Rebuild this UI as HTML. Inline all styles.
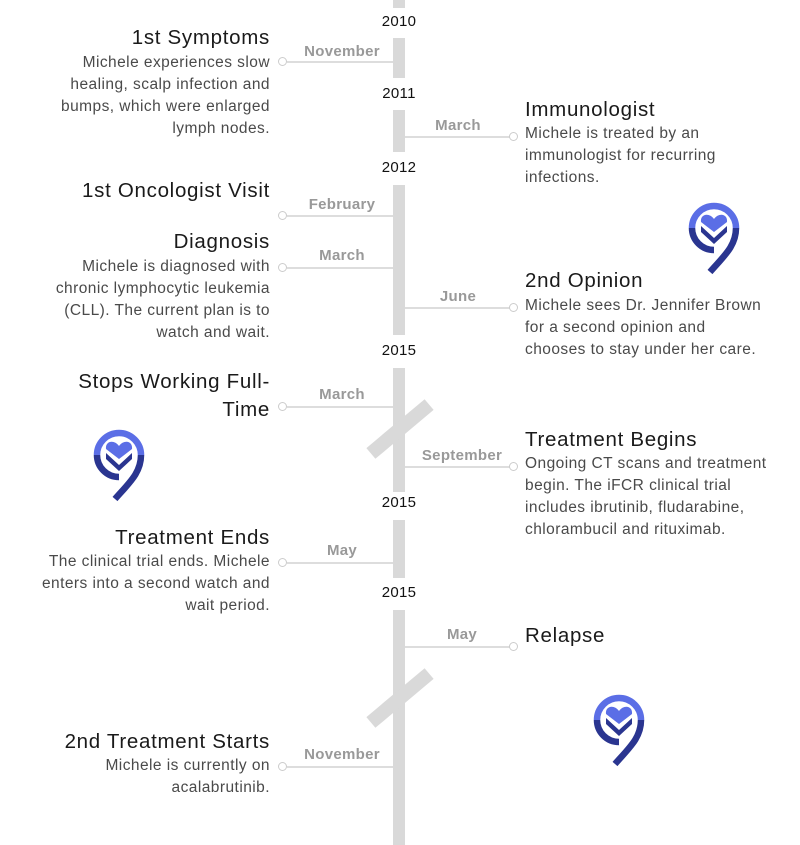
<!DOCTYPE html>
<html><head><meta charset="utf-8"><style>
body{margin:0;width:800px;height:845px;background:#fff;position:relative;overflow:hidden;font-family:"Liberation Sans",sans-serif}
.a{position:absolute;white-space:nowrap}
.bar{position:absolute;left:393px;width:12px;background:#d9d9d9}
.yr{position:absolute;left:349px;width:100px;text-align:center;font-size:15px;color:#111;height:20px;line-height:20px;letter-spacing:.3px}
.mo{position:absolute;font-size:15px;font-weight:bold;color:#999;height:20px;line-height:20px;text-align:center;width:110px;letter-spacing:.3px}
.ln{position:absolute;height:2px;background:#ddd}
.c{position:absolute;width:7px;height:7px;border:1.5px solid #ccc;border-radius:50%;background:#fff}
.L{right:530px;text-align:right}
.R{left:525px;text-align:left}
.t{font-size:20.5px;color:#1a1a1a;height:26px;line-height:26px;letter-spacing:.7px}
.b{font-size:15.5px;color:#4a4a4a;height:22px;line-height:22px;letter-spacing:.45px}
.sl{position:absolute;width:76px;height:14px;background:#d9d9d9;transform:rotate(-40deg)}
</style></head><body>
<div class="bar" style="top:0;height:8px"></div>
<div class="bar" style="top:38px;height:40px"></div>
<div class="bar" style="top:110px;height:42px"></div>
<div class="bar" style="top:185px;height:150px"></div>
<div class="bar" style="top:368px;height:124px"></div>
<div class="bar" style="top:520px;height:58px"></div>
<div class="bar" style="top:610px;height:235px"></div>
<div class="sl" style="left:362px;top:422px"></div>
<div class="sl" style="left:362px;top:691px"></div>

<div class="yr" style="top:12px">2010</div>
<div class="yr" style="top:84px">2011</div>
<div class="yr" style="top:158px">2012</div>
<div class="yr" style="top:341px">2015</div>
<div class="yr" style="top:493px">2015</div>
<div class="yr" style="top:583px">2015</div>

<div class="ln" style="left:287px;width:106px;top:61px"></div><div class="c" style="left:278px;top:57px"></div>
<div class="mo" style="left:287px;top:42px">November</div>
<div class="ln" style="left:287px;width:106px;top:215px"></div><div class="c" style="left:278px;top:211px"></div>
<div class="mo" style="left:287px;top:195px">February</div>
<div class="ln" style="left:287px;width:106px;top:267px"></div><div class="c" style="left:278px;top:263px"></div>
<div class="mo" style="left:287px;top:246px">March</div>
<div class="ln" style="left:287px;width:106px;top:406px"></div><div class="c" style="left:278px;top:402px"></div>
<div class="mo" style="left:287px;top:385px">March</div>
<div class="ln" style="left:287px;width:106px;top:562px"></div><div class="c" style="left:278px;top:558px"></div>
<div class="mo" style="left:287px;top:541px">May</div>
<div class="ln" style="left:287px;width:106px;top:766px"></div><div class="c" style="left:278px;top:762px"></div>
<div class="mo" style="left:287px;top:745px">November</div>

<div class="ln" style="left:405px;width:106px;top:136px"></div><div class="c" style="left:509px;top:132px"></div>
<div class="mo" style="left:403px;top:116px">March</div>
<div class="ln" style="left:405px;width:106px;top:307px"></div><div class="c" style="left:509px;top:303px"></div>
<div class="mo" style="left:403px;top:287px">June</div>
<div class="ln" style="left:405px;width:106px;top:466px"></div><div class="c" style="left:509px;top:462px"></div>
<div class="mo" style="left:407px;top:446px">September</div>
<div class="ln" style="left:405px;width:106px;top:646px"></div><div class="c" style="left:509px;top:642px"></div>
<div class="mo" style="left:407px;top:625px">May</div>

<div class="a L t" style="top:25px">1st Symptoms</div>
<div class="a L b" style="top:52px">Michele experiences slow</div>
<div class="a L b" style="top:74px">healing, scalp infection and</div>
<div class="a L b" style="top:96px">bumps, which were enlarged</div>
<div class="a L b" style="top:118px">lymph nodes.</div>

<div class="a L t" style="top:178px">1st Oncologist Visit</div>
<div class="a L t" style="top:229px">Diagnosis</div>
<div class="a L b" style="top:256px">Michele is diagnosed with</div>
<div class="a L b" style="top:278px">chronic lymphocytic leukemia</div>
<div class="a L b" style="top:300px">(CLL). The current plan is to</div>
<div class="a L b" style="top:322px">watch and wait.</div>

<div class="a L t" style="top:369px">Stops Working Full-</div>
<div class="a L t" style="top:397px">Time</div>

<div class="a L t" style="top:525px">Treatment Ends</div>
<div class="a L b" style="top:551px">The clinical trial ends. Michele</div>
<div class="a L b" style="top:573px">enters into a second watch and</div>
<div class="a L b" style="top:595px">wait period.</div>

<div class="a L t" style="top:729px">2nd Treatment Starts</div>
<div class="a L b" style="top:755px">Michele is currently on</div>
<div class="a L b" style="top:777px">acalabrutinib.</div>

<div class="a R t" style="top:97px">Immunologist</div>
<div class="a R b" style="top:123px">Michele is treated by an</div>
<div class="a R b" style="top:145px">immunologist for recurring</div>
<div class="a R b" style="top:167px">infections.</div>

<div class="a R t" style="top:268px">2nd Opinion</div>
<div class="a R b" style="top:295px">Michele sees Dr. Jennifer Brown</div>
<div class="a R b" style="top:317px">for a second opinion and</div>
<div class="a R b" style="top:339px">chooses to stay under her care.</div>

<div class="a R t" style="top:427px">Treatment Begins</div>
<div class="a R b" style="top:453px">Ongoing CT scans and treatment</div>
<div class="a R b" style="top:475px">begin. The iFCR clinical trial</div>
<div class="a R b" style="top:497px">includes ibrutinib, fludarabine,</div>
<div class="a R b" style="top:519px">chlorambucil and rituximab.</div>

<div class="a R t" style="top:623px">Relapse</div>

<svg width="0" height="0" style="position:absolute"><defs>
<g id="lg">
<path d="M8 30 A22 22 0 0 1 52 30" fill="none" stroke="#5b6ee6" stroke-width="6.5"/>
<path d="M8 30 A22 22 0 0 0 30 52" fill="none" stroke="#2a3590" stroke-width="6.5"/>
<path d="M52 30 C52 48 40 58 26 74" fill="none" stroke="#2a3590" stroke-width="6.5"/>
<path d="M30 21 C25 14 16 16 17 24 L30 34 L43 24 C44 16 35 14 30 21Z" fill="#5b6ee6"/>
<path d="M17 28 L30 40 L43 28 L43 34 L30 46 L17 34Z" fill="#2a3590"/>
</g></defs></svg>
<svg class="a" style="left:684px;top:198px" width="60" height="80" viewBox="0 0 60 80"><use href="#lg"/></svg>
<svg class="a" style="left:89px;top:425px" width="60" height="80" viewBox="0 0 60 80"><use href="#lg"/></svg>
<svg class="a" style="left:589px;top:690px" width="60" height="80" viewBox="0 0 60 80"><use href="#lg"/></svg>
</body></html>
